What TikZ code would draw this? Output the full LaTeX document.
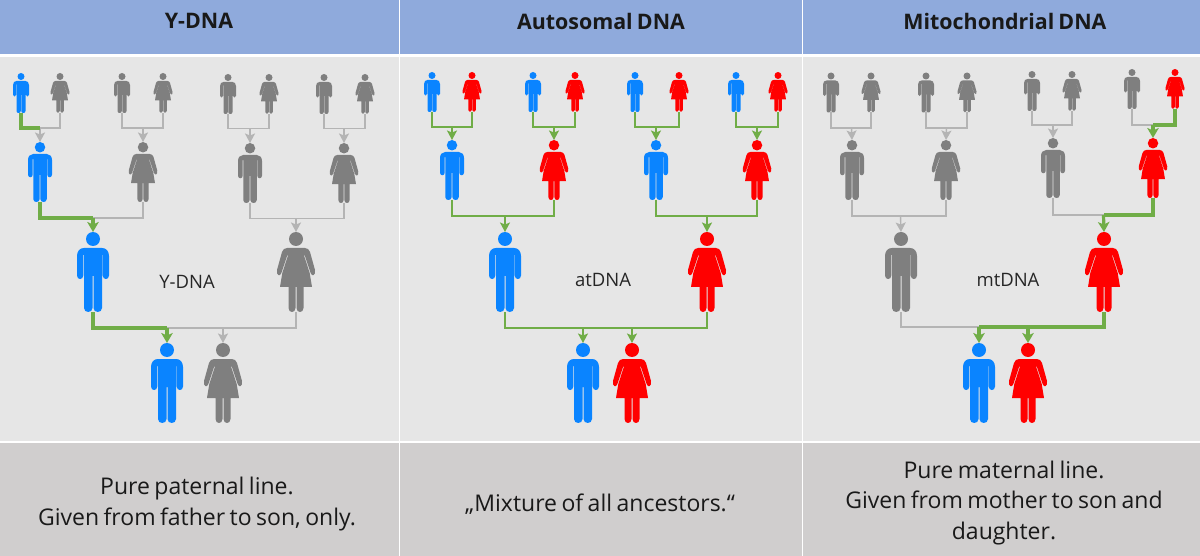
\documentclass[tikz,border=0pt]{standalone}
\usepackage{fontspec}
\setmainfont[WordSpace=0.75]{Open Sans}
\usetikzlibrary{arrows.meta}
\definecolor{mblue}{HTML}{0A84FF}
\definecolor{fred}{HTML}{FF0000}
\definecolor{pgrey}{HTML}{7F7F7F}
\definecolor{lgreen}{HTML}{70AD47}
\definecolor{lgrey}{HTML}{B4B4B4}
\definecolor{hdr}{HTML}{8FAADC}
\definecolor{bodyc}{HTML}{E6E6E6}
\definecolor{footc}{HTML}{D0CECE}
\tikzset{
  man/.pic={
    \path[pic actions] (0,-73) circle (7);
    \path[pic actions] (-16,-36.5) -- (-16,-56) .. controls (-16,-61) and (-13,-64) .. (-9,-64) -- (9,-64)
      .. controls (13,-64) and (16,-61) .. (16,-56) -- (16,-36.5)
      .. controls (16,-31.8) and (9.7,-31.8) .. (9.7,-36.5) -- (9.7,-57) -- (9,-57) -- (9,-4)
      .. controls (9,1.33) and (0.5,1.33) .. (0.5,-4) -- (0.5,-36) -- (-0.5,-36) -- (-0.5,-4)
      .. controls (-0.5,1.33) and (-9,1.33) .. (-9,-4) -- (-9,-57) -- (-9.7,-57) -- (-9.7,-36.5)
      .. controls (-9.7,-31.8) and (-16,-31.8) .. (-16,-36.5) -- cycle;
    \coordinate (-top) at (0,-80);
    \coordinate (-bot) at (0,0);
  },
  woman/.pic={
    \path[pic actions] (0,-73) circle (7);
    \path[pic actions] (-9,-64) -- (9,-64) .. controls (11.5,-64) and (13,-62.5) .. (14,-60) -- (19,-42)
      .. controls (20,-36.5) and (15.8,-35) .. (14.6,-39) -- (8.8,-56.5) -- (8,-56.5) -- (13.7,-39) -- (16,-25) -- (7.5,-25) -- (7.5,-4)
      .. controls (7.5,1.33) and (0.5,1.33) .. (0.5,-4) -- (0.5,-25) -- (-0.5,-25) -- (-0.5,-4)
      .. controls (-0.5,1.33) and (-7.5,1.33) .. (-7.5,-4) -- (-7.5,-25) -- (-16,-25) -- (-13.7,-39) -- (-8,-56.5) -- (-8.8,-56.5) -- (-14.6,-39)
      .. controls (-15.8,-35) and (-20,-36.5) .. (-19,-42) -- (-14,-60) .. controls (-13,-62.5) and (-11.5,-64) .. (-9,-64) -- cycle;
    \coordinate (-top) at (0,-80);
    \coordinate (-bot) at (0,0);
  },
  big/.style={fill=#1},
  mid/.style={fill=#1,scale=.75},
  small/.style={fill=#1,scale=.5},
  gline/.style={draw=lgrey,line width=1.4pt},
  garrow/.style={gline,-{Stealth[length=9.5pt,width=10pt,inset=2pt]}},
  tline/.style={draw=lgreen,line width=1.4pt},
  tarrow/.style={tline,-{Stealth[length=9.5pt,width=10pt,inset=2pt]}},
  hline/.style={draw=lgreen,line width=3.2pt},
  harrow/.style={hline,-{Stealth[length=10pt,width=11.5pt,inset=2.5pt]}},
  head/.style={font=\fontsize{21.4}{24}\selectfont\bfseries,text=black!90},
  lab/.style={font=\fontsize{18.5}{22}\selectfont,text=black!85},
  foot/.style={font=\fontsize{23}{30.5}\selectfont,text=black!90,align=center},
}
\begin{document}
\begin{tikzpicture}[x=1pt,y=-1pt]
\useasboundingbox (0,0) rectangle (1200,556);
\fill[white] (0,0) rectangle (1200,556);
% panels
\foreach \l/\r in {0/398.5,400/801.5,803/1200}{
  \fill[hdr] (\l,0) rectangle (\r,54);
  \fill[bodyc] (\l,57.5) rectangle (\r,441);
  \fill[footc] (\l,443) rectangle (\r,556);
}
\node[head] (h1) at (199,21) {Y-DNA};
\node[head] (h2) at (601,21) {Autosomal DNA};
\node[head] (h3) at (1005,21) {Mitochondrial DNA};
\node[lab] (l1) at (187,282) {Y-DNA};
\node[lab] (l2) at (603,280) {atDNA};
\node[lab] (l3) at (1008,280) {mtDNA};
\node[foot] (f1) at (197,504) {Pure paternal line.\\Given from father to son, only.};
\node[foot] (f2) at (600,504) {„Mixture of all ancestors.“};
\node[foot] (f3) at (1004,503) {Pure maternal line.\\Given from mother to son and\\daughter.};
% ---- panel 1 persons
\pic[small=mblue] (a1) at (21,113) {man};
\pic[small=pgrey] (a2) at (60,113) {woman};
\pic[small=pgrey] (a3) at (122,113) {man};
\pic[small=pgrey] (a4) at (163,113) {woman};
\pic[small=pgrey] (a5) at (228,114) {man};
\pic[small=pgrey] (a6) at (269,114) {woman};
\pic[small=pgrey] (a7) at (324,114) {man};
\pic[small=pgrey] (a8) at (365,114) {woman};
\pic[mid=mblue] (a9) at (40,202) {man};
\pic[mid=pgrey] (a10) at (143,202) {woman};
\pic[mid=pgrey] (a11) at (250,203) {man};
\pic[mid=pgrey] (a12) at (344,203) {woman};
\pic[big=mblue] (a13) at (93,312) {man};
\pic[big=pgrey] (a14) at (296,312) {woman};
\pic[big=mblue] (a15) at (167,423) {man};
\pic[big=pgrey] (a16) at (223,423) {woman};
\coordinate (aj1) at (40,128);
\coordinate (aj2) at (143,128);
\coordinate (aj3) at (250,128.5);
\coordinate (aj4) at (344,128.5);
\coordinate (aj5) at (93,218);
\coordinate (aj6) at (296,218.5);
\coordinate (aj7) at (167,328);
\coordinate (aj8) at (223,328);
\draw[gline] (a2-bot) |- (aj1);
\draw[garrow] (aj1) -- (a9-top);
\draw[gline] (a3-bot) |- (aj2);
\draw[gline] (a4-bot) |- (aj2);
\draw[garrow] (aj2) -- (a10-top);
\draw[gline] (a5-bot) |- (aj3);
\draw[gline] (a6-bot) |- (aj3);
\draw[garrow] (aj3) -- (a11-top);
\draw[gline] (a7-bot) |- (aj4);
\draw[gline] (a8-bot) |- (aj4);
\draw[garrow] (aj4) -- (a12-top);
\draw[gline] (a10-bot) |- (aj5);
\draw[gline] (a11-bot) |- (aj6);
\draw[gline] (a12-bot) |- (aj6);
\draw[garrow] (aj6) -- (a14-top);
\draw[gline] (a14-bot) |- (aj7);
\draw[garrow] (aj8) -- (a16-top);
\draw[hline] (a1-bot) |- (aj1);
\draw[hline] (a9-bot) |- (aj5);
\draw[harrow] (aj5) -- (a13-top);
\draw[hline] (a13-bot) |- (aj7);
\draw[harrow] (aj7) -- (a15-top);
% ---- panel 2 persons
\pic[small=mblue] (b1) at (432,112) {man};
\pic[small=fred] (b2) at (472,112) {woman};
\pic[small=mblue] (b3) at (533,112) {man};
\pic[small=fred] (b4) at (575,112) {woman};
\pic[small=mblue] (b5) at (635,112) {man};
\pic[small=fred] (b6) at (679,112) {woman};
\pic[small=mblue] (b7) at (736,112) {man};
\pic[small=fred] (b8) at (778,112) {woman};
\pic[mid=mblue] (b9) at (452,200) {man};
\pic[mid=fred] (b10) at (554,200) {woman};
\pic[mid=mblue] (b11) at (656,200) {man};
\pic[mid=fred] (b12) at (757,200) {woman};
\pic[big=mblue] (b13) at (505,312) {man};
\pic[big=fred] (b14) at (707,312) {woman};
\pic[big=mblue] (b15) at (583,423) {man};
\pic[big=fred] (b16) at (632,423) {woman};
\coordinate (bj1) at (452,127);
\coordinate (bj2) at (554,127);
\coordinate (bj3) at (656,127);
\coordinate (bj4) at (757,127);
\coordinate (bj5) at (505,216);
\coordinate (bj6) at (707,216);
\coordinate (bj7) at (583,328);
\coordinate (bj8) at (632,328);
\draw[tline] (b1-bot) |- (bj1);
\draw[tline] (b2-bot) |- (bj1);
\draw[tarrow] (bj1) -- (b9-top);
\draw[tline] (b3-bot) |- (bj2);
\draw[tline] (b4-bot) |- (bj2);
\draw[tarrow] (bj2) -- (b10-top);
\draw[tline] (b5-bot) |- (bj3);
\draw[tline] (b6-bot) |- (bj3);
\draw[tarrow] (bj3) -- (b11-top);
\draw[tline] (b7-bot) |- (bj4);
\draw[tline] (b8-bot) |- (bj4);
\draw[tarrow] (bj4) -- (b12-top);
\draw[tline] (b9-bot) |- (bj5);
\draw[tline] (b10-bot) |- (bj5);
\draw[tarrow] (bj5) -- (b13-top);
\draw[tline] (b11-bot) |- (bj6);
\draw[tline] (b12-bot) |- (bj6);
\draw[tarrow] (bj6) -- (b14-top);
\draw[tline] (b13-bot) |- (bj7);
\draw[tline] (b14-bot) |- (bj8);
\draw[tline] (bj7) -- (bj8);
\draw[tarrow] (bj7) -- (b15-top);
\draw[tarrow] (bj8) -- (b16-top);
% ---- panel 3 persons
\pic[small=pgrey] (c1) at (831,112.5) {man};
\pic[small=pgrey] (c2) at (871,112.5) {woman};
\pic[small=pgrey] (c3) at (926,112.5) {man};
\pic[small=pgrey] (c4) at (967,112.5) {woman};
\pic[small=pgrey] (c5) at (1032,111) {man};
\pic[small=pgrey] (c6) at (1072,111) {woman};
\pic[small=pgrey] (c7) at (1132,109) {man};
\pic[small=fred] (c8) at (1175,109) {woman};
\pic[mid=pgrey] (c9) at (852,200) {man};
\pic[mid=pgrey] (c10) at (946,200) {woman};
\pic[mid=pgrey] (c11) at (1053,198) {man};
\pic[mid=fred] (c12) at (1153,198) {woman};
\pic[big=pgrey] (c13) at (901,312) {man};
\pic[big=fred] (c14) at (1104,312) {woman};
\pic[big=mblue] (c15) at (979,423) {man};
\pic[big=fred] (c16) at (1028,423) {woman};
\coordinate (cj1) at (851.5,128);
\coordinate (cj2) at (946.5,128);
\coordinate (cj3) at (1053,125);
\coordinate (cj4) at (1153,125);
\coordinate (cj5) at (900.5,216);
\coordinate (cj6) at (1103.5,215);
\coordinate (cj7) at (979,327);
\coordinate (cj8) at (1028,327);
\draw[gline] (c1-bot) |- (cj1);
\draw[gline] (c2-bot) |- (cj1);
\draw[garrow] (cj1) -- (c9-top);
\draw[gline] (c3-bot) |- (cj2);
\draw[gline] (c4-bot) |- (cj2);
\draw[garrow] (cj2) -- (c10-top);
\draw[gline] (c5-bot) |- (cj3);
\draw[gline] (c6-bot) |- (cj3);
\draw[garrow] (cj3) -- (c11-top);
\draw[gline] (c7-bot) |- (cj4);
\draw[gline] (c9-bot) |- (cj5);
\draw[gline] (c10-bot) |- (cj5);
\draw[garrow] (cj5) -- (c13-top);
\draw[gline] (c11-bot) |- (cj6);
\draw[gline] (c13-bot) |- (cj7);
\draw[hline] (c8-bot) |- (cj4);
\draw[harrow] (cj4) -- (c12-top);
\draw[hline] (c12-bot) |- (cj6);
\draw[harrow] (cj6) -- (c14-top);
\draw[hline] (c14-bot) |- (cj7);
\draw[harrow] (cj7) -- (c15-top);
\draw[harrow] (cj8) -- (c16-top);
\end{tikzpicture}
\end{document}
